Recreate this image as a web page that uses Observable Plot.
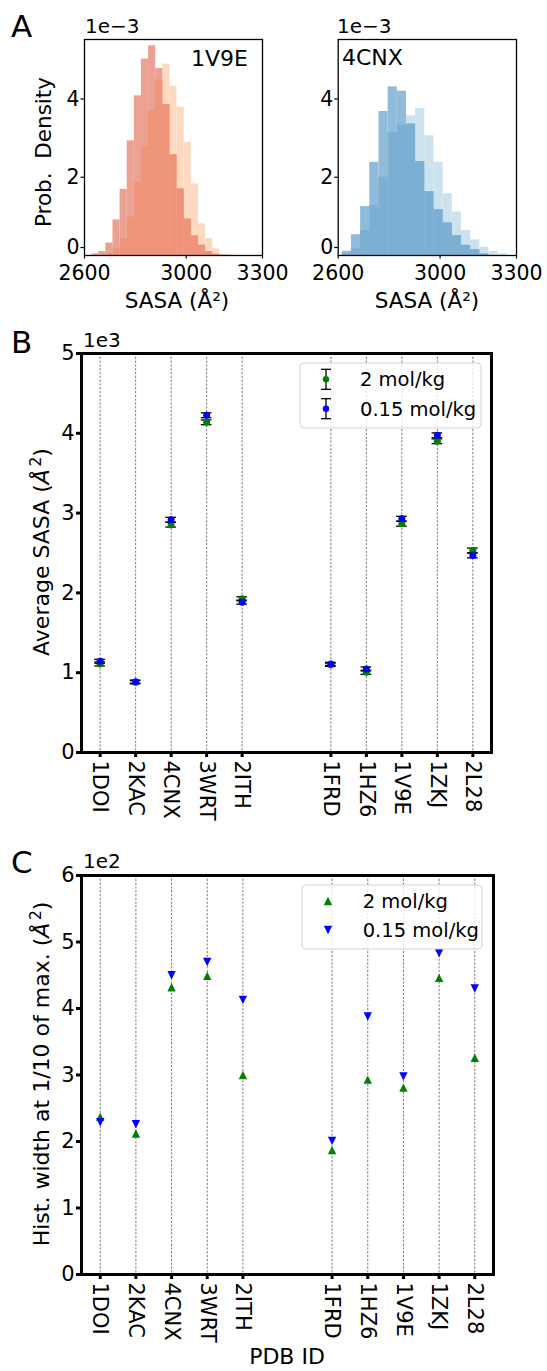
<!DOCTYPE html>
<html>
<head>
<meta charset="utf-8">
<script src="https://cdn.jsdelivr.net/npm/d3@7"></script>
<script src="https://cdn.jsdelivr.net/npm/@observablehq/plot@0.6"></script>
<style>
  html, body { margin: 0; padding: 0; background: #fff; }
  #fig { position: relative; width: 547px; height: 1371px; overflow: hidden; background: #fff;
         font-family: "DejaVu Sans", sans-serif; }
  #fig svg { overflow: visible; }
  .panel { position: absolute; }
</style>
</head>
<body>
<div id="fig"></div>
<script>
// ---------------- DATA ----------------
// Panel A: SASA histograms (Å²), density in units of 1e-3
const edges1V9E = [2628, 2656, 2684, 2712, 2740, 2768, 2796, 2824, 2852, 2880, 2908,
                   2936, 2964, 2992, 3020, 3048, 3076, 3104, 3132, 3160, 3188];
const dens1V9E_2M   = [0.04, 0.10, 0.32, 0.91, 1.69, 2.93, 4.08, 5.02, 5.36, 4.78,
                       3.86, 2.57, 1.70, 0.93, 0.50, 0.26, 0.10, 0.03, 0.00, 0.00];
const dens1V9E_015M = [0.00, 0.00, 0.05, 0.17, 0.43, 0.98, 1.87, 2.77, 3.70, 4.49,
                       4.89, 4.32, 3.79, 2.89, 1.83, 0.81, 0.43, 0.17, 0.04, 0.02];

const edges4CNX = [2616, 2652, 2688, 2724, 2760, 2796, 2832, 2868, 2904, 2940,
                   2976, 3012, 3048, 3084, 3120, 3156, 3192, 3228, 3264];
const dens4CNX_2M   = [0.11, 0.53, 1.25, 2.38, 3.68, 4.31, 4.20, 3.36, 2.40,
                       1.63, 1.17, 0.83, 0.51, 0.26, 0.15, 0.04, 0.00, 0.00];
const dens4CNX_015M = [0.05, 0.17, 0.64, 1.28, 2.00, 3.13, 3.33, 3.57, 3.76,
                       3.06, 2.38, 1.58, 1.11, 0.64, 0.40, 0.21, 0.11, 0.04];

const histTicksX = [2600, 3000, 3300];
const histTicksY = [0, 2, 4];

// Panels B & C
const pdbIds = ["1DOI", "2KAC", "4CNX", "3WRT", "2ITH", "1FRD", "1HZ6", "1V9E", "1ZKJ", "2L28"];
const xSlots = [0, 1, 2, 3, 4, 6.5, 7.5, 8.5, 9.5, 10.5];

const sasa2M      = [1110, 880, 2855, 4138, 1926, 1100, 1005, 2867, 3900, 2532];
const sasa015M    = [1143, 888, 2917, 4226, 1884, 1110, 1047, 2930, 3975, 2469];
const sasaErr2M   = [25, 20, 30, 30, 25, 20, 25, 30, 30, 30];
const sasaErr015M = [25, 20, 30, 30, 25, 20, 25, 30, 30, 30];

const width2M   = [237, 212, 432, 449, 300, 187, 293, 281, 446, 326];
const width015M = [229, 226, 450, 470, 413, 201, 388, 298, 483, 430];

const sasaTicks = [0, 1000, 2000, 3000, 4000, 5000];
const widthTicks = [0, 100, 200, 300, 400, 500, 600];

const seriesNames = ["2 mol/kg", "0.15 mol/kg"];
const seriesColors = ["green", "blue"];

// ---------------- HELPERS ----------------
const FONT = "DejaVu Sans";
const fig = document.getElementById("fig");

function place(node, left, top) {
  node.classList.add("panel");
  node.style.left = left + "px";
  node.style.top = top + "px";
  fig.appendChild(node);
}

function histBins(edges, a, b) {
  return a.map((v, i) => ({x1: edges[i], x2: edges[i + 1], a: v, b: b[i]}));
}

function histPlot(bins, colors, opts) {
  return Plot.plot({
    width: opts.width, height: 330,
    marginLeft: opts.ml, marginRight: opts.mr, marginTop: 39, marginBottom: 75,
    x: {domain: [2600, 3300]},
    y: {domain: [0, 5.52]},
    style: {fontFamily: FONT, fontSize: "20.5px", color: "black", background: "transparent", overflow: "visible"},
    marks: [
      Plot.rect(bins, {x1: "x1", x2: "x2", y1: () => 0, y2: "b", fill: colors.light}),
      Plot.rect(bins, {x1: "x1", x2: "x2", y1: () => 0, y2: "a", fill: colors.mid}),
      Plot.rect(bins, {x1: "x1", x2: "x2", y1: () => 0, y2: d => Math.min(d.a, d.b), fill: colors.strong}),
      Plot.frame({stroke: "black", strokeWidth: 1.3}),
      Plot.axisX({ticks: histTicksX, tickFormat: d => String(d), tickSize: 3.5, tickPadding: 6,
                  fontSize: 20.5, label: null, strokeWidth: 1.2}),
      Plot.axisY({ticks: histTicksY.filter(t => t !== 0), tickFormat: d => String(d), tickSize: 3.5, tickPadding: 1.5,
                  fontSize: 20.5, label: null, strokeWidth: 1.2}),
      Plot.axisY({ticks: histTicksY.filter(t => t === 0), tickFormat: d => String(d), tickSize: 3.5, tickPadding: 1.5,
                  fontSize: 20.5, label: null, strokeWidth: 1.2, dy: -8})
    ]
  });
}

const triUp = {draw(ctx, size) { const r = Math.sqrt(size / Math.PI);
  ctx.moveTo(0, -r); ctx.lineTo(r, r); ctx.lineTo(-r, r); ctx.closePath(); }};
const triDown = {draw(ctx, size) { const r = Math.sqrt(size / Math.PI);
  ctx.moveTo(0, r); ctx.lineTo(r, -r); ctx.lineTo(-r, -r); ctx.closePath(); }};

const idBySlot = new Map(xSlots.map((s, i) => [s, pdbIds[i]]));

function idAxes(yTicks, yFmt) {
  return [
    Plot.frame({stroke: "black", strokeWidth: 3}),
    Plot.axisX({ticks: xSlots, tickFormat: d => idBySlot.get(d), tickRotate: 90,
                tickSize: 5, tickPadding: 3, fontSize: 21, strokeWidth: 3, label: null}),
    Plot.axisY({ticks: yTicks, tickFormat: yFmt, tickSize: 5, tickPadding: 2,
                fontSize: 21, strokeWidth: 3, label: null})
  ];
}

// ---------------- PANEL A ----------------
const bins1 = histBins(edges1V9E, dens1V9E_2M, dens1V9E_015M);
const bins2 = histBins(edges4CNX, dens4CNX_2M, dens4CNX_015M);
place(histPlot(bins1, {mid: "#eca293", light: "#fdd9bf", strong: "#ef9479"},
               {width: 270, ml: 84, mr: 8}), 0, 0);
place(histPlot(bins2, {mid: "#90bcda", light: "#cde2ef", strong: "#7bafd4"},
               {width: 277, ml: 67.7, mr: 31}), 270, 0);

// ---------------- PANEL B ----------------
const sasaRows = xSlots.map((x, i) => ({x, id: pdbIds[i],
  v2: sasa2M[i], e2: sasaErr2M[i], v015: sasa015M[i], e015: sasaErr015M[i]}));
const cap = 0.15;
const plotB = Plot.plot({
  width: 547, height: 500,
  marginLeft: 81, marginRight: 56, marginTop: 33, marginBottom: 68,
  x: {domain: [-0.525, 11.025]},
  y: {domain: [0, 5000]},
  style: {fontFamily: FONT, fontSize: "21px", color: "black", background: "transparent", overflow: "visible"},
  marks: [
    Plot.ruleX(xSlots, {stroke: "#555", strokeWidth: 0.8, strokeDasharray: "2.2,1.6"}),
    Plot.ruleX(sasaRows, {x: "x", y1: d => d.v2 - d.e2, y2: d => d.v2 + d.e2, stroke: "black", strokeWidth: 1.3}),
    Plot.ruleY(sasaRows, {y: d => d.v2 - d.e2, x1: d => d.x - cap, x2: d => d.x + cap, stroke: "black", strokeWidth: 1.3}),
    Plot.ruleY(sasaRows, {y: d => d.v2 + d.e2, x1: d => d.x - cap, x2: d => d.x + cap, stroke: "black", strokeWidth: 1.3}),
    Plot.dot(sasaRows, {x: "x", y: "v2", r: 3.5, fill: seriesColors[0], stroke: "none"}),
    Plot.ruleX(sasaRows, {x: "x", y1: d => d.v015 - d.e015, y2: d => d.v015 + d.e015, stroke: "black", strokeWidth: 1.3}),
    Plot.ruleY(sasaRows, {y: d => d.v015 - d.e015, x1: d => d.x - cap, x2: d => d.x + cap, stroke: "black", strokeWidth: 1.3}),
    Plot.ruleY(sasaRows, {y: d => d.v015 + d.e015, x1: d => d.x - cap, x2: d => d.x + cap, stroke: "black", strokeWidth: 1.3}),
    Plot.dot(sasaRows, {x: "x", y: "v015", r: 3.5, fill: seriesColors[1], stroke: "none"}),
    ...idAxes(sasaTicks, d => String(d / 1000))
  ]
});
place(plotB, 0, 320);

// ---------------- PANEL C ----------------
const widthRows = xSlots.map((x, i) => ({x, id: pdbIds[i], w2: width2M[i], w015: width015M[i]}));
const plotC = Plot.plot({
  width: 547, height: 531,
  marginLeft: 81, marginRight: 54, marginTop: 35, marginBottom: 97,
  x: {domain: [-0.525, 11.025]},
  y: {domain: [0, 600]},
  style: {fontFamily: FONT, fontSize: "21px", color: "black", background: "transparent", overflow: "visible"},
  marks: [
    Plot.ruleX(xSlots, {stroke: "#555", strokeWidth: 0.8, strokeDasharray: "2.2,1.6"}),
    Plot.dot(widthRows, {x: "x", y: "w2", r: 4.2, symbol: triUp, fill: seriesColors[0], stroke: "none"}),
    Plot.dot(widthRows, {x: "x", y: "w015", r: 4.2, symbol: triDown, fill: seriesColors[1], stroke: "none"}),
    ...idAxes(widthTicks, d => String(d / 100))
  ]
});
place(plotC, 0, 840);

// ---------------- ANNOTATIONS (text, legends) ----------------
const ov = d3.select(fig).append("svg")
  .attr("width", 547).attr("height", 1371)
  .style("position", "absolute").style("left", "0px").style("top", "0px")
  .style("pointer-events", "none")
  .attr("font-family", FONT).attr("fill", "black");

function txt(x, y, s, size, anchor = "start", rotate = 0) {
  const t = ov.append("text")
    .attr("transform", `translate(${x},${y}) rotate(${rotate})`)
    .attr("font-size", size).attr("text-anchor", anchor)
    .style("white-space", "pre");
  t.text(s);
  return t;
}
function unitLabel(x, y, prefix, size, rotate) {
  const t = ov.append("text")
    .attr("transform", `translate(${x},${y}) rotate(${rotate})`)
    .attr("font-size", size).attr("text-anchor", "middle")
    .style("white-space", "pre");
  t.append("tspan").text(prefix + "(");
  t.append("tspan").attr("font-style", "italic").text("Å");
  t.append("tspan").attr("font-size", size * 0.7).attr("dy", -size * 0.38).attr("dx", size * 0.12).text("2");
  t.append("tspan").attr("dy", size * 0.38).text(")");
}

// panel letters
txt(11, 37, "A", 31);
txt(11, 353, "B", 31);
txt(11, 873, "C", 31);
// offset (scale) texts
txt(85, 33, "1e\u22123", 20);
txt(337, 33, "1e\u22123", 20);
txt(83, 347, "1e3", 20);
txt(83, 868, "1e2", 20);
// histogram annotations
txt(248, 66, "1V9E", 22, "end");
txt(342, 65, "4CNX", 22, "start");
// axis labels
txt(51, 152, "Prob.  Density", 21.5, "middle", -90);
txt(177, 308, "SASA (Å²)", 21.5, "middle");
txt(427, 308, "SASA (Å²)", 21.5, "middle");
unitLabel(49, 552, "Average SASA ", 22, -90);
unitLabel(49, 1074, "Hist. width at 1/10 of max. ", 22, -90);
txt(287, 1364, "PDB ID", 22, "middle");

// legends
function legendBox(x, y, w, h) {
  ov.append("rect").attr("x", x).attr("y", y).attr("width", w).attr("height", h)
    .attr("rx", 4).attr("fill", "white").attr("fill-opacity", 0.8)
    .attr("stroke", "#d4d4d4").attr("stroke-width", 1);
}
legendBox(300, 363, 181, 65);
[[379.3, 0], [408.7, 1]].forEach(([cy, i]) => {
  const cx = 326, e = 10, c = 5;
  ov.append("line").attr("x1", cx).attr("x2", cx).attr("y1", cy - e).attr("y2", cy + e).attr("stroke", "black").attr("stroke-width", 1.3);
  ov.append("line").attr("x1", cx - c).attr("x2", cx + c).attr("y1", cy - e).attr("y2", cy - e).attr("stroke", "black").attr("stroke-width", 1.3);
  ov.append("line").attr("x1", cx - c).attr("x2", cx + c).attr("y1", cy + e).attr("y2", cy + e).attr("stroke", "black").attr("stroke-width", 1.3);
  ov.append("circle").attr("cx", cx).attr("cy", cy).attr("r", 3.2).attr("fill", seriesColors[i]);
  txt(360, cy + 7, seriesNames[i], 19.5);
});

legendBox(302, 885, 180, 64);
[[901, 0, "up"], [930, 1, "down"]].forEach(([cy, i, dir]) => {
  const cx = 328, r = 4.2;
  const p = dir === "up"
    ? `M${cx},${cy - r}L${cx + r},${cy + r}L${cx - r},${cy + r}Z`
    : `M${cx},${cy + r}L${cx + r},${cy - r}L${cx - r},${cy - r}Z`;
  ov.append("path").attr("d", p).attr("fill", seriesColors[i]);
  txt(362.7, cy + 7, seriesNames[i], 19.5);
});
</script>
</body>
</html>
